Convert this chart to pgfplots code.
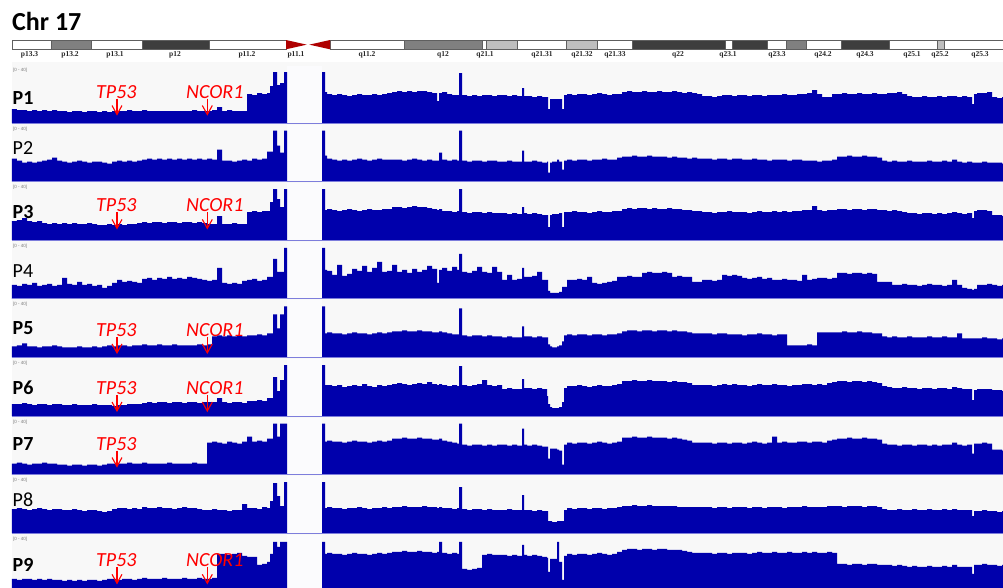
\documentclass[border=0pt]{standalone}
\usepackage{fontspec}
\setmainfont{Carlito}
\newfontfamily\bandfont{Liberation Serif}
\newfontfamily\rngfont{Liberation Sans}
\usepackage{pgfplots}
\usepackage{pgfplotstable}
\pgfplotsset{compat=1.18}
\definecolor{igvblue}{RGB}{0,0,172}
\definecolor{trackbg}{RGB}{248,248,248}
\definecolor{gapbg}{RGB}{251,251,253}
\definecolor{baseblue}{RGB}{125,125,220}
\definecolor{rnggray}{RGB}{120,120,120}
\definecolor{bandgray}{RGB}{128,128,128}
\definecolor{banddark}{RGB}{62,62,62}
\definecolor{bandlight}{RGB}{190,190,190}
\definecolor{bandline}{RGB}{95,95,95}
\definecolor{cenred}{RGB}{175,0,0}

\pgfplotsset{track/.style={anchor=south west, scale only axis, width=991pt, height=57pt,
  xmin=12, xmax=1003, ymin=0, ymax=57, hide axis, clip=true}}

\pgfplotstableread[row sep=\\]{
x p1 p2 p3 p4 p5 p6 p7 p8 p9\\
12 14 23 19 14 11 12 11 24 13\\
17 13 21 20 13 12 12 12 25 12\\
22 13 19 22 15 14 13 11 24 13\\
27 12 20 19 14 11 12 10 23 13\\
32 13 19 18 16 11 11 11 24 12\\
37 12 20 19 13 10 12 11 25 13\\
42 13 21 17 14 11 12 12 24 12\\
47 12 22 16 15 11 11 11 23 13\\
52 13 24 17 13 12 12 11 24 12\\
57 12 21 16 14 11 12 10 24 12\\
62 12 20 17 21 10 11 10 23 11\\
67 11 19 16 15 10 11 9 23 12\\
72 12 20 17 14 10 12 10 24 11\\
77 12 21 16 17 11 11 10 23 12\\
82 11 20 16 14 10 11 9 22 11\\
87 12 19 17 15 10 11 10 23 12\\
92 12 20 16 13 11 12 10 23 12\\
97 11 20 15 14 10 11 9 22 11\\
102 12 19 15 11 11 11 10 21 12\\
107 11 18 16 13 12 11 11 22 13\\
112 12 20 15 16 11 10 11 24 13\\
117 12 21 16 19 12 11 11 25 12\\
122 12 20 15 17 12 11 11 25 13\\
127 13 21 16 18 11 12 12 24 13\\
132 12 20 16 17 12 12 11 25 12\\
137 12 21 17 16 12 12 11 24 13\\
142 13 22 18 20 13 13 12 26 14\\
147 12 23 17 21 12 14 11 25 13\\
152 12 22 18 19 12 13 11 25 13\\
157 12 23 18 21 13 14 11 26 13\\
162 12 22 17 20 12 14 11 25 14\\
167 12 23 18 22 12 13 12 25 13\\
172 12 22 18 20 13 14 11 24 13\\
177 12 23 17 21 12 14 11 25 13\\
182 12 22 18 20 12 13 11 26 14\\
187 12 23 18 22 12 14 11 25 13\\
192 13 22 17 21 12 14 12 25 13\\
197 12 23 18 20 13 13 11 24 14\\
202 12 22 17 19 12 14 11 23 13\\
207 12 23 16 18 13 14 32 23 13\\
212 13 22 16 19 21 14 33 24 14\\
217 16 32 24 31 22 18 32 23 38\\
222 12 21 16 16 21 14 31 23 38\\
227 13 21 16 15 22 13 33 22 37\\
232 12 20 17 16 21 14 32 23 38\\
237 12 21 16 15 22 14 31 23 39\\
242 12 22 16 18 21 13 33 29 36\\
247 29 21 28 19 22 15 38 25 35\\
252 28 23 29 20 22 15 33 25 35\\
257 30 22 28 18 23 16 34 24 27\\
262 29 23 29 19 22 15 33 26 28\\
267 30 30 29 22 24 18 36 25 30\\
270 37 30 38 22 24 18 36 32 38\\
273 51 51 51 40 43 39 51 50 50\\
277 38 36 41 27 29 25 38 37 45\\
280 40 29 33 27 43 36 51 27 50\\
284 51 51 51 51 51 51 51 51 50\\
287 0 0 0 0 0 0 0 0 0\\
322 51 51 51 51 51 51 51 51 50\\
325 31 26 30 29 24 31 33 25 38\\
327 29 23 31 28 25 31 34 26 39\\
332 28 22 30 24 24 30 33 25 38\\
337 29 21 29 34 24 31 33 25 38\\
342 28 22 30 23 23 29 32 24 37\\
347 27 21 31 25 24 30 33 25 38\\
352 28 22 30 30 25 31 34 25 39\\
357 29 23 29 28 24 30 33 26 38\\
362 28 22 30 33 24 32 33 25 38\\
367 28 21 31 27 23 30 32 24 37\\
372 29 22 30 31 24 29 33 25 38\\
377 28 23 30 37 25 31 34 25 39\\
382 29 22 31 27 24 30 33 26 38\\
387 30 22 31 28 25 31 34 25 39\\
392 31 22 33 34 26 32 36 26 40\\
397 32 22 33 27 26 33 36 26 40\\
402 31 21 32 29 27 32 37 27 41\\
407 32 22 33 26 26 31 36 26 40\\
412 31 23 34 30 26 32 36 26 40\\
417 32 22 33 27 27 33 37 26 41\\
422 32 21 33 29 26 32 36 27 40\\
427 31 22 32 33 26 34 36 26 40\\
432 30 21 31 30 25 32 35 26 39\\
437 22 21 30 16 25 31 35 25 40\\
439 30 29 31 29 26 32 36 26 50\\
442 31 22 29 31 25 31 34 25 39\\
447 29 21 29 28 24 30 33 25 38\\
452 28 22 28 32 23 31 32 24 39\\
457 28 21 29 29 23 30 31 25 38\\
459 50 51 51 45 49 50 51 46 50\\
462 28 21 28 27 22 31 30 24 23\\
467 27 20 27 26 21 30 29 23 22\\
472 28 21 28 28 22 31 30 24 23\\
477 27 21 28 32 22 32 30 24 24\\
482 28 20 27 27 21 36 29 23 37\\
487 28 21 28 26 22 31 30 24 38\\
492 27 21 27 32 21 30 29 23 37\\
497 28 20 27 27 21 31 30 23 37\\
502 28 20 27 19 20 27 30 23 37\\
507 27 21 26 24 21 28 29 24 36\\
512 28 20 27 19 20 27 30 23 37\\
517 27 20 26 20 20 27 29 23 36\\
522 35 31 33 31 31 37 46 38 47\\
524 27 20 27 22 21 28 30 23 37\\
527 27 20 26 22 21 28 29 23 36\\
532 26 21 27 23 20 27 30 22 37\\
537 27 20 26 27 21 28 29 23 36\\
542 26 19 25 19 20 27 28 22 35\\
547 26 20 25 19 20 20 28 22 34\\
548 14 9 13 8 13 12 16 12 20\\
550 24 19 25 6 11 9 26 12 33\\
552 24 20 26 6 10 8 26 11 33\\
557 24 22 26 6 11 8 25 12 50\\
559 24 20 27 7 12 9 24 12 30\\
562 14 12 13 12 16 14 10 12 12\\
564 28 21 28 12 22 28 30 23 36\\
567 29 22 28 19 23 30 32 25 38\\
572 28 21 29 19 22 30 31 24 37\\
577 29 22 28 20 23 31 32 25 38\\
582 29 22 28 19 23 30 32 25 38\\
587 28 21 27 22 22 29 31 24 37\\
592 29 22 28 16 23 30 32 25 38\\
597 30 22 29 15 23 31 33 25 39\\
602 29 23 28 16 22 30 32 24 38\\
607 28 22 28 17 23 30 31 25 37\\
612 29 22 29 18 23 31 32 25 38\\
617 29 24 29 22 24 32 33 26 40\\
622 31 25 31 22 26 35 37 27 42\\
627 32 25 32 23 27 35 37 27 43\\
632 31 26 31 22 27 36 38 28 43\\
637 31 25 32 22 26 35 37 27 42\\
642 32 25 32 26 27 35 37 27 43\\
647 31 26 31 27 27 36 38 28 43\\
652 31 25 32 26 26 35 37 27 42\\
657 32 25 31 26 27 35 37 27 43\\
662 31 25 31 27 27 35 37 27 43\\
667 31 24 32 26 26 34 36 27 42\\
672 32 25 31 22 27 35 37 27 42\\
677 31 24 31 23 26 34 36 26 42\\
682 30 24 30 22 26 34 35 26 41\\
687 31 23 30 22 25 33 34 26 40\\
692 30 24 29 17 24 31 32 26 39\\
697 29 23 29 17 24 31 32 26 39\\
702 27 23 28 19 24 31 32 26 39\\
707 27 23 28 19 24 31 32 26 39\\
712 26 22 27 18 23 30 31 25 38\\
717 27 23 28 19 24 31 32 26 39\\
722 28 23 28 24 24 32 32 26 39\\
727 28 22 29 23 23 31 31 25 38\\
732 27 23 28 24 23 32 32 26 39\\
737 28 23 28 23 23 31 32 26 39\\
742 28 22 28 21 22 31 31 26 39\\
747 27 22 27 20 23 30 32 25 38\\
752 28 23 28 21 23 31 33 26 39\\
757 28 22 29 22 24 32 32 26 40\\
762 27 22 28 20 23 31 31 25 39\\
767 28 21 28 21 23 31 32 26 39\\
772 28 22 29 19 22 32 38 26 40\\
777 28 22 28 19 23 31 32 26 39\\
782 29 22 29 20 23 31 33 25 39\\
787 28 21 28 19 12 30 32 26 40\\
792 28 22 29 19 12 31 32 26 39\\
797 29 22 29 18 12 31 33 26 39\\
802 29 21 30 24 12 32 33 27 40\\
807 30 21 30 19 13 32 32 26 39\\
812 33 21 34 20 12 31 33 26 40\\
817 29 20 30 21 25 32 33 26 39\\
822 26 21 29 21 25 31 32 26 39\\
827 26 21 30 20 25 33 34 27 40\\
832 29 22 30 21 25 34 35 27 39\\
837 29 25 31 26 25 35 36 27 28\\
842 30 25 31 26 26 35 36 26 28\\
847 29 26 30 25 25 34 37 27 27\\
852 29 25 31 26 25 35 36 27 28\\
857 30 25 31 26 26 35 36 27 28\\
862 29 26 30 25 25 34 37 26 27\\
867 29 25 31 26 25 35 36 27 28\\
872 30 25 31 25 24 34 36 27 28\\
877 29 24 30 17 24 33 35 26 27\\
882 29 21 30 17 21 30 31 24 27\\
887 30 20 29 17 20 29 30 23 27\\
892 30 21 30 14 21 28 30 23 26\\
897 31 20 29 14 20 28 29 24 27\\
902 29 20 28 15 20 29 30 23 26\\
907 27 21 27 14 21 28 30 23 25\\
912 26 20 27 14 20 28 29 24 26\\
917 26 20 26 13 20 27 30 23 25\\
922 27 20 27 14 20 28 30 23 25\\
927 26 21 27 15 21 28 29 24 26\\
932 26 20 26 14 20 27 30 23 25\\
937 27 20 27 14 20 28 29 23 25\\
942 26 21 26 13 21 28 30 24 26\\
947 27 20 27 14 20 27 30 23 25\\
952 27 22 28 19 20 29 32 24 27\\
957 26 20 27 14 24 28 30 23 25\\
962 27 19 26 11 19 27 29 23 25\\
967 26 20 27 10 19 27 30 23 25\\
972 19 19 22 9 19 16 21 17 18\\
974 29 19 29 10 19 26 31 22 27\\
977 30 19 30 14 19 27 31 22 27\\
982 30 20 30 14 20 27 32 23 28\\
987 31 19 29 15 19 27 31 22 27\\
992 26 19 25 14 19 26 25 22 27\\
997 25 19 25 13 18 26 25 21 26\\
1002 26 18 24 14 19 25 24 22 27\\
1003 26 18 24 14 19 25 24 22 27\\
}\cov

% #1 column, #2 baseline (px from top), #3 label, #4 label baseline height above track baseline
\newcommand\panel[4]{%
  \fill[gapbg] (287pt,{(57-#2)*1pt}) rectangle (322pt,-#2pt);
  \begin{axis}[track,at={(12pt,-#2pt)}]
    \addplot[const plot mark left,fill=igvblue,draw=none] table[x=x,y=#1]{\cov}\closedcycle;
  \end{axis}
  \draw[baseblue,line width=0.9pt] (12pt,-#2pt) -- (1003pt,-#2pt);
  \node[anchor=base west,inner sep=0,text=rnggray,font=\rngfont\fontsize{4.5}{5}\selectfont] at (13pt,{(51.5-#2)*1pt}) {[0 - 40]};
  \node[anchor=base west,inner sep=0,font=\fontsize{20}{24}\selectfont] at (12.5pt,{(#4-#2)*1pt}) {#3};
}
% #1 name, #2 text x, #3 arrow x, #4 track baseline, #5 text baseline height above track baseline
\newcommand\gene[5]{%
  \node[anchor=base west,inner sep=0,text=red,font=\itshape\fontsize{20}{24}\selectfont] at (#2pt,{(#5-#4)*1pt}) {#1};
  \draw[red,line width=1.1pt] (#3pt,{(#5-0.5-#4)*1pt}) -- (#3pt,{(#5-16-#4)*1pt});
  \draw[red,line width=1.1pt] ({(#3-5)*1pt},{(#5-7.5-#4)*1pt}) -- (#3pt,{(#5-16.5-#4)*1pt}) -- ({(#3+5)*1pt},{(#5-7.5-#4)*1pt});
}
\newcommand\band[3]{\fill[#3] (#1pt,-40pt) rectangle (#2pt,-49.3pt); \draw[bandline,line width=0.5pt] (#1pt,-40pt) rectangle (#2pt,-49.3pt);}
\newcommand\blab[2]{\node[anchor=base,inner sep=0,text=black!85,font=\bandfont\bfseries\fontsize{7.5}{8}\selectfont] at (#1pt,-56pt) {#2};}

\begin{document}
\begin{tikzpicture}
\useasboundingbox (0,0) rectangle (1003pt,-587pt);
\clip (0,0) rectangle (1003pt,-587pt);
\fill[white] (0,0) rectangle (1003pt,-587pt);
\fill[trackbg] (12pt,-62pt) rectangle (1003pt,-587pt);

% title
\node[anchor=base west,inner sep=0,font=\bfseries\fontsize{26}{30}\selectfont] at (12pt,-30pt) {Chr 17};

% ideogram
\band{12}{51}{white}
\band{51}{91.7}{bandgray}
\band{91.7}{142.7}{white}
\band{142.7}{209.3}{banddark}
\band{209.3}{286}{white}
\band{330}{404.3}{white}
\band{404.3}{482.7}{bandgray}
\band{482.7}{486.7}{white}
\band{486.7}{517.7}{bandlight}
\band{517.7}{566.7}{white}
\band{566.7}{597.7}{bandlight}
\band{597.7}{632.7}{white}
\band{632.7}{725}{banddark}
\band{725}{732.7}{white}
\band{732.7}{767.7}{banddark}
\band{767.7}{786}{white}
\band{786}{806}{bandgray}
\band{806}{841.7}{white}
\band{841.7}{889.3}{banddark}
\band{889.3}{937.3}{white}
\band{937.3}{944.3}{bandlight}
\band{944.3}{1006}{white}
\fill[cenred] (286pt,-40pt) -- (286pt,-49.3pt) -- (306.7pt,-44.65pt) -- cycle;
\fill[cenred] (330pt,-40pt) -- (330pt,-49.3pt) -- (309.3pt,-44.65pt) -- cycle;
\blab{29.5}{p13.3}
\blab{70}{p13.2}
\blab{115}{p13.1}
\blab{175}{p12}
\blab{247}{p11.2}
\blab{296}{p11.1}
\blab{367}{q11.2}
\blab{443}{q12}
\blab{485}{q21.1}
\blab{542}{q21.31}
\blab{582}{q21.32}
\blab{615}{q21.33}
\blab{678}{q22}
\blab{728}{q23.1}
\blab{777}{q23.3}
\blab{823}{q24.2}
\blab{865}{q24.3}
\blab{912}{q25.1}
\blab{940}{q25.2}
\blab{980}{q25.3}

% tracks
\panel{p1}{123}{\bfseries P1}{19}
\panel{p2}{181.6}{P2}{27.5}
\panel{p3}{240.2}{\bfseries P3}{21.7}
\panel{p4}{298.8}{P4}{21.5}
\panel{p5}{357.4}{\bfseries P5}{22.7}
\panel{p6}{416}{\bfseries P6}{22}
\panel{p7}{474.6}{\bfseries P7}{24}
\panel{p8}{533.2}{P8}{26.7}
\panel{p9}{591.8}{\bfseries P9}{20}

% gene annotations
\gene{TP53}{96}{117}{123}{25}
\gene{NCOR1}{186}{207.3}{123}{25}
\gene{TP53}{96}{117}{240.2}{28.3}
\gene{NCOR1}{186}{207.3}{240.2}{28.3}
\gene{TP53}{96}{117}{357.4}{21}
\gene{NCOR1}{186}{207.3}{357.4}{21}
\gene{TP53}{96}{117}{416}{21.5}
\gene{NCOR1}{186}{207.3}{416}{21.5}
\gene{TP53}{96}{117}{474.6}{24.6}
\gene{TP53}{96}{117}{591.8}{25}
\gene{NCOR1}{186}{207.3}{591.8}{25}
\end{tikzpicture}
\end{document}
